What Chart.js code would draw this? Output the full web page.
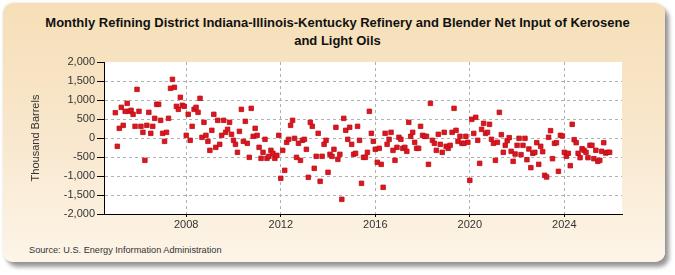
<!DOCTYPE html>
<html>
<head>
<meta charset="utf-8">
<script src="https://cdn.jsdelivr.net/npm/chart.js@4.4.1/dist/chart.umd.min.js"></script>
<style>
    html, body { margin: 0; padding: 0; background: #fff; }
    #wrap { position: relative; width: 675px; height: 275px; overflow: hidden; }
    #panel {
        position: absolute; left: 3px; top: 3px; width: 662px; height: 259px;
        border-radius: 10px;
        background: linear-gradient(to bottom, #f6dfb7 0%, #f9e8cf 55%, #fdf5e8 100%);
        box-shadow: 4px 5px 4px rgba(0, 0, 0, 0.4), 0 0 3px rgba(0, 0, 0, 0.12);
    }
    #title {
        position: absolute; left: 0; top: 14px; width: 675px; text-align: center;
        font: bold 13px 'Liberation Sans', Arial, sans-serif; line-height: 18px; color: #111;
    }
    #source {
        position: absolute; left: 29px; top: 245px;
        font: 9.2px 'Liberation Sans', Arial, sans-serif; line-height: 11px; color: #333;
    }
    canvas { position: absolute; left: 0; top: 0; }
</style>
</head>
<body>
<div id="wrap">
    <div id="panel"></div>
    <div id="title">Monthly Refining District Indiana-Illinois-Kentucky Refinery and Blender Net Input of Kerosene<br>and Light Oils</div>
    <div id="source">Source: U.S. Energy Information Administration</div>
    <canvas id="chart" width="675" height="275"></canvas>
</div>
<script>
    // monthly values, thousand barrels, starting Jan 2005
    const startYear = 2005;
    const netInput = [
        667, -219, 254, 807, 333, 702, 912, 702, 728, 623, 307, 1280,
        702, 307, 149, -588, 333, 675, 123, 307, 517, 886, 886, 465,
        123, -88, 149, 517, 1307, 1543, 1333, 833, 754, 1070, 860, 833,
        70, 623, -61, 307, 754, 807, 675, 1044, 18, 412, 70, -88,
        -325, 202, 623, -246, 465, -167, 70, 465, 149, 228, 412, 97,
        -61, -167, -377, 175,
        754, -88, 438, -140, -509, 780, 44, 254, 70, -246, -535, -377,
        -35, -535, -482, -325, -403, -535, -456, 70, -1061, -325, -851, -114,
        -35, 333, 465, -9, -509, -140, -588, -61, -35, -298, -1035, 412,
        307, -798, -482, 123, -1140, -482, -167, -61, -903, -430, -482, -298,
        281, -561, -430, -1614, 517, 202, -35, 281, -167, -430, -403, 307,
        -61, -1193, -509, -509, -377, 702, 123, -88, -298, -640, -272, -693,
        -1298, 123, -167, -35,
        149, -325, -588, -246, 18, -35, -272, -246, -351, 412, 44, 149,
        -114, -272, -272, 307, 70, 44, 44, -693, 912, -61, -140, -325,
        97, -167, -377, 149, -219, -272, -193, 149, 780, 202, -88, 44,
        -140, -140, 44, -114, -1114, 491, 121, 544, -61, -667, 228, 386,
        121, 149, 360, -35, -140, -588, -114, 675,
        88, -377, -193, -70, 9, -351, -614, -421, -193, -9, -438, -193,
        -9, -570, -289, -780, -403, -377, -123, -693, -219, -360, -982, -1026,
        18, 193, -544, -140, -123, -877, 70, 53, -377, -482, -403, -728,
        360, -44, -123, -403, -517, -281, -324, -377, -517, -193, -193, -544,
        -324, -614, -588, -351, -123, -395, -377, -377
    ];
    const xTicks = [2008, 2012, 2016, 2020, 2024];
    const yMin = -2000;
    const yMax = 2000;
    const yStep = 500;

    const points = netInput.map((v, i) => ({ x: startYear + i / 12, y: v }));

    function withCommas(n) {
        const s = String(Math.abs(n)).replace(/\B(?=(\d{3})+(?!\d))/g, ',');
        return n < 0 ? '-' + s : s;
    }

    const plotBackground = {
        id: 'plotBackground',
        beforeDraw(chart) {
            const { ctx, chartArea } = chart;
            ctx.save();
            ctx.fillStyle = '#ffffff';
            ctx.fillRect(chartArea.left, chartArea.top, chartArea.right - chartArea.left, chartArea.bottom - chartArea.top);
            ctx.restore();
        }
    };

    const tickFont = { family: "'Liberation Sans', Arial, sans-serif", size: 11 };

    new Chart(document.getElementById('chart'), {
        type: 'scatter',
        data: {
            datasets: [{
                label: 'Net Input',
                data: points,
                pointStyle: 'rect',
                pointRadius: 3.2,
                backgroundColor: '#e0141c',
                borderColor: '#b8101a',
                borderWidth: 0.8,
            }],
        },
        options: {
            responsive: false,
            animation: false,
            devicePixelRatio: 1,
            layout: { padding: { left: 25, right: 53, top: 62, bottom: 0 } },
            plugins: { legend: { display: false }, tooltip: { enabled: false } },
            scales: {
                x: {
                    type: 'linear',
                    min: 2004.52,
                    max: 2026.44,
                    afterBuildTicks(axis) { axis.ticks = xTicks.map(v => ({ value: v })); },
                    afterFit(axis) { axis.height = 61; },
                    ticks: { font: tickFont, color: '#333', padding: 1, maxRotation: 0, callback: v => String(v) },
                    grid: { color: '#b0b0b0', tickColor: '#000', tickLength: 3 },
                    border: { color: '#000', width: 1, dash: [3, 3] },
                },
                y: {
                    min: yMin,
                    max: yMax,
                    afterFit(axis) { axis.width = 79; },
                    ticks: { stepSize: yStep, font: tickFont, color: '#333', padding: 2, callback: v => withCommas(v) },
                    grid: {
                        color: ctx => (ctx.tick && ctx.tick.value === yMax ? 'rgba(0,0,0,0)' : '#b0b0b0'),
                        tickColor: '#000',
                        tickLength: 7,
                    },
                    border: { color: '#000', width: 1, dash: [3, 3] },
                    title: {
                        display: true,
                        text: 'Thousand Barrels',
                        font: tickFont,
                        color: '#333',
                        padding: { top: 4, bottom: 0 },
                    },
                },
            },
        },
        plugins: [plotBackground],
    });
</script>
</body>
</html>
